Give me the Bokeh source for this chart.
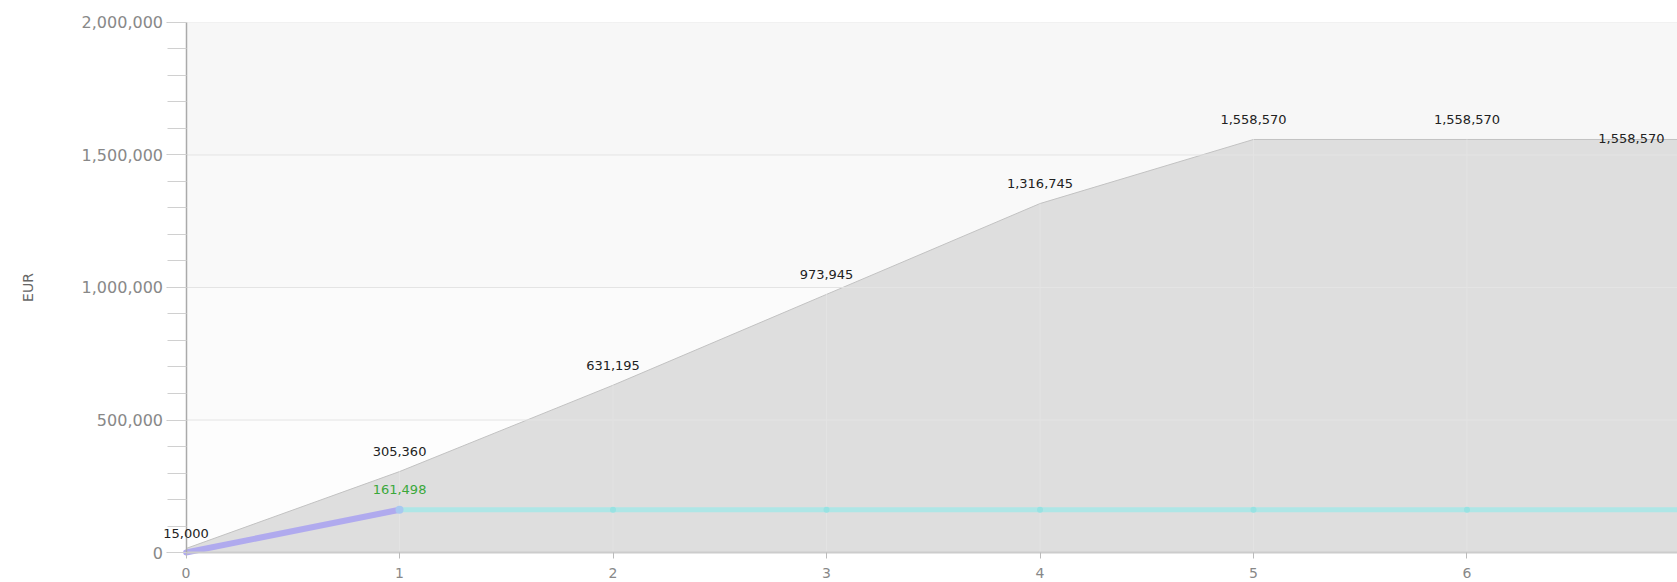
from bokeh.plotting import figure
from bokeh.models import (ColumnDataSource, Range1d, SingleIntervalTicker, NumeralTickFormatter,
                          FixedTicker, Label, BoxAnnotation)
from bokeh.embed import file_html
from bokeh.resources import INLINE

# ---- data ----
months = [0, 1, 2, 3, 4, 5, 6, 7]
cumulative = [15000, 305360, 631195, 973945, 1316745, 1558570, 1558570, 1558570]
actual_x = [0, 1]
actual = [0, 161498]
forecast_x = [1, 2, 3, 4, 5, 6, 7]
forecast = [161498, 161498, 161498, 161498, 161498, 161498, 161498]
y_ticks = [0, 500000, 1000000, 1500000, 2000000]

def fmt(v):
    return f"{v:,}"

# the frame spans the whole page; both axes are pinned at 0 so that the
# labels outside the plot area are not clipped
p = figure(width=1677, height=582, output_backend="svg", toolbar_location=None,
           x_range=Range1d(-0.869, 6.986), y_range=Range1d(-113200, 2083000),
           min_border_left=0, min_border_right=0, min_border_top=0, min_border_bottom=0)
p.outline_line_color = None
p.background_fill_color = "white"
p.border_fill_color = "white"

# subtle background bands (light gradient look) inside the plot area
band_colors = ["#fdfdfd", "#fbfbfb", "#f9f9f9", "#f7f7f7"]
for lo, hi, c in zip(y_ticks[:-1], y_ticks[1:], band_colors):
    p.add_layout(BoxAnnotation(bottom=lo, top=hi, left=months[0], fill_color=c, fill_alpha=1,
                               line_color=None, level="underlay"))

# grid lines, only inside the plot area
p.segment(x0=months[0], x1=months[-1] + 1, y0=y_ticks[1:], y1=y_ticks[1:], line_color="#ebebeb",
          line_width=1, level="underlay")
p.segment(x0=months[1:], x1=months[1:], y0=0, y1=y_ticks[-1], line_color="#ededed",
          line_width=1, level="underlay")

# area of cumulative plan
src = ColumnDataSource(dict(x=months, y=cumulative))
p.varea(x="x", y1=0, y2="y", source=src, fill_color="#dedede")
p.line(x="x", y="y", source=src, line_color="#c2c2c2", line_width=1)
# faint grid lines visible on the area
p.segment(x0=months[0], x1=months[-1] + 1, y0=y_ticks[1:4], y1=y_ticks[1:4], line_color="#e4e4e4",
          line_width=1)
p.segment(x0=months[1:], x1=months[1:], y0=0, y1=cumulative[1:], line_color="#e3e3e3",
          line_width=1)

# forecast (cyan)
p.line(forecast_x, forecast, line_color="#aee6e6", line_width=5)
p.scatter(forecast_x, forecast, size=6, fill_color="#98e2e2", line_color=None)
# actual (purple)
p.line(actual_x, actual, line_color="#b0aaee", line_width=6, line_cap="round")
p.scatter(actual_x[-1:], actual[-1:], size=8, fill_color="#a8c8f0", line_color=None)

# labels
font = "DejaVu Sans"
n = len(months)
for i, (xv, yv) in enumerate(zip(months, cumulative)):
    if i == n - 1:
        p.add_layout(Label(x=xv, y=yv, text=fmt(yv), text_align="right", text_baseline="middle",
                           x_offset=-16, y_offset=1, text_font=font, text_font_size="13px",
                           text_color="#222222"))
    else:
        p.add_layout(Label(x=xv, y=yv, text=fmt(yv), text_align="center", text_baseline="middle",
                           y_offset=15 if i == 0 else 20, text_font=font, text_font_size="13px",
                           text_color="#222222"))
p.add_layout(Label(x=actual_x[-1], y=actual[-1], text=fmt(actual[-1]), text_align="center",
                   text_baseline="middle", y_offset=20, text_font=font, text_font_size="13px",
                   text_color="#3aa83a"))

# axes
p.yaxis.fixed_location = 0
p.yaxis.bounds = (y_ticks[0], y_ticks[-1])
p.yaxis.ticker = SingleIntervalTicker(interval=500000, num_minor_ticks=5)
p.yaxis.formatter = NumeralTickFormatter(format="0,0")
p.yaxis.axis_label = "EUR"
p.yaxis.axis_label_standoff = 43
p.yaxis.axis_label_text_font = font
p.yaxis.axis_label_text_font_style = "normal"
p.yaxis.axis_label_text_font_size = "14px"
p.yaxis.axis_label_text_color = "#666666"
p.yaxis.major_label_text_font = font
p.yaxis.major_label_text_font_size = "16px"
p.yaxis.major_label_text_color = "#888888"
p.yaxis.major_tick_out = 20
p.yaxis.major_tick_in = 0
p.yaxis.minor_tick_out = 19
p.yaxis.minor_tick_in = 0
p.yaxis.major_tick_line_color = "#c8c8c8"
p.yaxis.minor_tick_line_color = "#d0d0d0"
p.yaxis.axis_line_color = "#aaaaaa"
p.yaxis.axis_line_width = 1.5
p.yaxis.major_label_standoff = 3

p.xaxis.fixed_location = 0
p.xaxis.ticker = FixedTicker(ticks=months)
p.xaxis.bounds = (months[0], months[-1] + 1)
p.xaxis.major_label_text_font = font
p.xaxis.major_label_text_font_size = "14px"
p.xaxis.major_label_text_color = "#888888"
p.xaxis.major_tick_out = 6
p.xaxis.major_tick_in = 0
p.xaxis.minor_tick_out = 0
p.xaxis.minor_tick_in = 0
p.xaxis.major_tick_line_color = "#bbbbbb"
p.xaxis.axis_line_color = "#cccccc"
p.xaxis.axis_line_width = 2
p.xaxis.major_label_standoff = 9

p.grid.grid_line_color = None

open("out.html", "w").write(file_html(p, INLINE))
